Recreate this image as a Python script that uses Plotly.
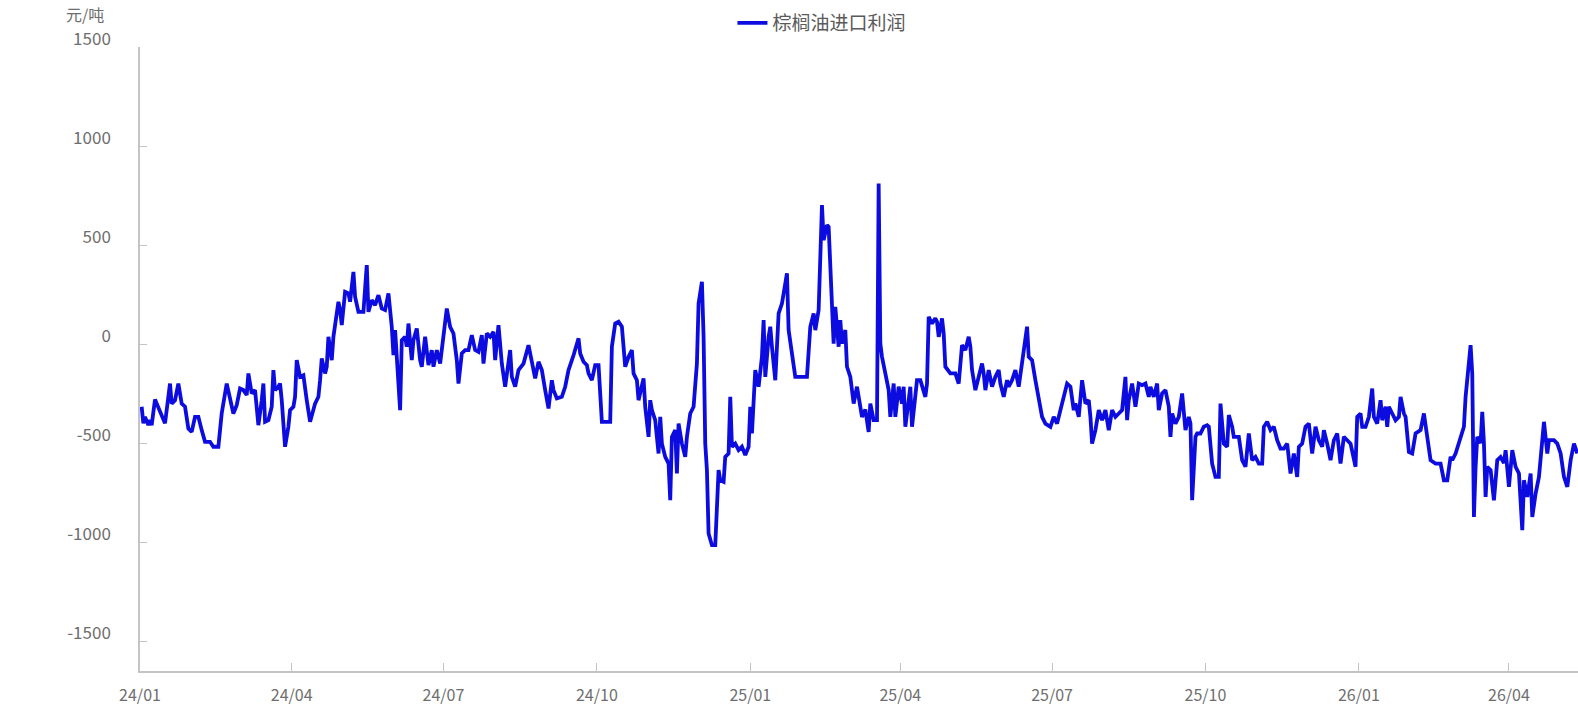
import plotly.graph_objects as go

dates = [
"2024-01-02","2024-01-03","2024-01-04","2024-01-06","2024-01-07","2024-01-08","2024-01-10","2024-01-12","2024-01-16","2024-01-19",
"2024-01-20","2024-01-22","2024-01-24","2024-01-26","2024-01-28","2024-01-30","2024-02-01","2024-02-03","2024-02-05","2024-02-07",
"2024-02-09","2024-02-12","2024-02-14","2024-02-17","2024-02-19","2024-02-22","2024-02-24","2024-02-26","2024-02-28","2024-03-01",
"2024-03-03","2024-03-05","2024-03-06","2024-03-08","2024-03-10","2024-03-12","2024-03-14","2024-03-15","2024-03-16","2024-03-18",
"2024-03-20","2024-03-21","2024-03-22","2024-03-24","2024-03-25","2024-03-26","2024-03-28","2024-03-30","2024-03-31","2024-04-02",
"2024-04-03","2024-04-04","2024-04-06","2024-04-08","2024-04-10","2024-04-12","2024-04-15","2024-04-17","2024-04-18","2024-04-19",
"2024-04-21","2024-04-22","2024-04-23","2024-04-25","2024-04-26","2024-04-27","2024-04-29","2024-04-30","2024-05-01","2024-05-03",
"2024-05-05","2024-05-06","2024-05-08","2024-05-09","2024-05-11","2024-05-14","2024-05-16","2024-05-17","2024-05-19","2024-05-21",
"2024-05-23","2024-05-25","2024-05-27","2024-05-29","2024-05-31","2024-06-01","2024-06-02","2024-06-03","2024-06-05","2024-06-06",
"2024-06-08","2024-06-09","2024-06-10","2024-06-12","2024-06-13","2024-06-15","2024-06-17","2024-06-18","2024-06-20","2024-06-22",
"2024-06-24","2024-06-25","2024-06-27","2024-06-29","2024-07-01","2024-07-03","2024-07-05","2024-07-07","2024-07-09","2024-07-10",
"2024-07-12","2024-07-14","2024-07-16","2024-07-18","2024-07-20","2024-07-22","2024-07-24","2024-07-25","2024-07-27","2024-07-29",
"2024-07-31","2024-08-01","2024-08-03","2024-08-04","2024-08-05","2024-08-07","2024-08-09","2024-08-10","2024-08-11","2024-08-13",
"2024-08-15","2024-08-18","2024-08-21","2024-08-23","2024-08-25","2024-08-27","2024-08-29","2024-08-31","2024-09-02","2024-09-04",
"2024-09-05","2024-09-07","2024-09-10","2024-09-12","2024-09-14","2024-09-17","2024-09-20","2024-09-21","2024-09-23","2024-09-25",
"2024-09-26","2024-09-28","2024-09-30","2024-10-02","2024-10-04","2024-10-07","2024-10-09","2024-10-10","2024-10-12","2024-10-14",
"2024-10-16","2024-10-17","2024-10-18","2024-10-20","2024-10-22","2024-10-23","2024-10-25","2024-10-26","2024-10-28","2024-10-29",
"2024-10-30","2024-11-01","2024-11-02","2024-11-03","2024-11-05","2024-11-07","2024-11-08","2024-11-09","2024-11-11","2024-11-13",
"2024-11-14","2024-11-15","2024-11-17","2024-11-18","2024-11-19","2024-11-21","2024-11-23","2024-11-24","2024-11-26","2024-11-28",
"2024-11-30","2024-12-01","2024-12-03","2024-12-04","2024-12-05","2024-12-06","2024-12-07","2024-12-09","2024-12-11","2024-12-12",
"2024-12-13","2024-12-14","2024-12-16","2024-12-17","2024-12-19","2024-12-20","2024-12-21","2024-12-23","2024-12-25","2024-12-27",
"2024-12-29","2024-12-31","2025-01-01","2025-01-02","2025-01-04","2025-01-06","2025-01-08","2025-01-09","2025-01-10","2025-01-12",
"2025-01-13","2025-01-14","2025-01-16","2025-01-18","2025-01-20","2025-01-22","2025-01-23","2025-01-24","2025-01-26","2025-01-28",
"2025-02-04","2025-02-06","2025-02-08","2025-02-09","2025-02-11","2025-02-13","2025-02-14","2025-02-16","2025-02-17","2025-02-19",
"2025-02-20","2025-02-21","2025-02-23","2025-02-24","2025-02-25","2025-02-27","2025-02-28","2025-03-02","2025-03-04","2025-03-06",
"2025-03-09","2025-03-11","2025-03-13","2025-03-14","2025-03-16","2025-03-18","2025-03-19","2025-03-20","2025-03-21","2025-03-23",
"2025-03-25","2025-03-26","2025-03-28","2025-03-29","2025-03-31","2025-04-02","2025-04-03","2025-04-04","2025-04-06","2025-04-07",
"2025-04-08","2025-04-10","2025-04-11","2025-04-13","2025-04-16","2025-04-17","2025-04-18","2025-04-20","2025-04-22","2025-04-23",
"2025-04-24","2025-04-26","2025-04-27","2025-04-28","2025-05-01","2025-05-04","2025-05-06","2025-05-08","2025-05-10","2025-05-12",
"2025-05-13","2025-05-14","2025-05-16","2025-05-18","2025-05-20","2025-05-21","2025-05-22","2025-05-24","2025-05-26","2025-05-28",
"2025-05-30","2025-05-31","2025-06-02","2025-06-04","2025-06-05","2025-06-07","2025-06-09","2025-06-11","2025-06-13","2025-06-15",
"2025-06-16","2025-06-17","2025-06-19","2025-06-21","2025-06-23","2025-06-25","2025-06-27","2025-06-30","2025-07-02","2025-07-04",
"2025-07-06","2025-07-08","2025-07-10","2025-07-12","2025-07-14","2025-07-15","2025-07-17","2025-07-19","2025-07-21","2025-07-23",
"2025-07-24","2025-07-25","2025-07-27","2025-07-29","2025-07-31","2025-08-02","2025-08-04","2025-08-06","2025-08-08","2025-08-10",
"2025-08-12","2025-08-14","2025-08-15","2025-08-16","2025-08-18","2025-08-20","2025-08-22","2025-08-24","2025-08-26","2025-08-28",
"2025-08-29","2025-08-31","2025-09-02","2025-09-03","2025-09-05","2025-09-07","2025-09-09","2025-09-10","2025-09-11","2025-09-13",
"2025-09-15","2025-09-17","2025-09-18","2025-09-19","2025-09-21","2025-09-22","2025-09-23","2025-09-25","2025-09-26","2025-09-28",
"2025-09-30","2025-10-02","2025-10-03","2025-10-05","2025-10-07","2025-10-09","2025-10-10","2025-10-12","2025-10-14","2025-10-15",
"2025-10-17","2025-10-18","2025-10-21","2025-10-23","2025-10-25","2025-10-27","2025-10-29","2025-10-31","2025-11-02","2025-11-04",
"2025-11-05","2025-11-07","2025-11-09","2025-11-11","2025-11-13","2025-11-15","2025-11-17","2025-11-19","2025-11-21","2025-11-23",
"2025-11-25","2025-11-26","2025-11-28","2025-11-30","2025-12-02","2025-12-04","2025-12-06","2025-12-08","2025-12-10","2025-12-11",
"2025-12-13","2025-12-15","2025-12-17","2025-12-19","2025-12-21","2025-12-23","2025-12-25","2025-12-27","2025-12-30","2025-12-31",
"2026-01-02","2026-01-03","2026-01-05","2026-01-07","2026-01-09","2026-01-10","2026-01-12","2026-01-14","2026-01-15","2026-01-17",
"2026-01-18","2026-01-19","2026-01-21","2026-01-23","2026-01-25","2026-01-26","2026-01-28","2026-01-29","2026-01-31","2026-02-02",
"2026-02-04","2026-02-07","2026-02-09","2026-02-11","2026-02-13","2026-02-16","2026-02-19","2026-02-21","2026-02-23","2026-02-25",
"2026-02-26","2026-02-28","2026-03-03","2026-03-05","2026-03-06","2026-03-08","2026-03-09","2026-03-10","2026-03-11","2026-03-12",
"2026-03-13","2026-03-15","2026-03-16","2026-03-17","2026-03-18","2026-03-19","2026-03-21","2026-03-23","2026-03-25","2026-03-27",
"2026-03-29","2026-03-30","2026-04-01","2026-04-03","2026-04-05","2026-04-07","2026-04-09","2026-04-10","2026-04-12","2026-04-14",
"2026-04-15","2026-04-17","2026-04-19","2026-04-21","2026-04-22","2026-04-24","2026-04-25","2026-04-28","2026-04-30","2026-05-02",
"2026-05-04","2026-05-06","2026-05-08","2026-05-10","2026-05-12",
]

profit = [
-316,-400,-367,-409,-384,-409,-279,-316,-400,-199,
-300,-283,-199,-300,-316,-426,-443,-367,-367,-434,
-493,-493,-518,-518,-350,-199,-283,-350,-308,-224,
-232,-257,-148,-249,-232,-409,-283,-199,-392,-384,
-316,-131,-232,-215,-199,-283,-518,-417,-333,-316,
-266,-81,-165,-157,-283,-392,-300,-266,-182,-72,
-148,-114,37,-81,37,104,214,172,96,264,
256,214,365,239,163,163,399,163,222,197,
247,180,172,256,87,-56,71,-64,-333,20,
37,-13,104,-81,20,79,-81,-114,37,-106,
-30,-114,-30,-98,37,180,87,54,-81,-199,
-47,-30,-30,45,-30,-39,45,-98,54,37,
62,-81,96,3,-98,-215,-64,-30,-165,-215,
-131,-98,-5,-98,-173,-89,-131,-232,-325,-182,
-232,-274,-266,-215,-131,-56,29,-47,-89,-106,
-148,-182,-106,-106,-392,-392,-392,-13,104,113,
88,-13,-114,-64,-30,-148,-182,-283,-215,-173,
-316,-468,-283,-333,-384,-552,-367,-502,-569,-603,
-788,-468,-434,-653,-401,-502,-569,-468,-350,-316,
-98,205,315,37,-502,-636,-956,-1015,-1015,-804,
-636,-687,-695,-569,-552,-266,-518,-502,-535,-518,
-560,-518,-316,-451,-131,-215,-64,121,-165,37,
88,-13,-182,155,205,306,357,71,-64,-165,
-165,88,155,71,172,702,525,601,592,172,
3,188,-13,121,3,71,-114,-165,-300,-215,
-367,-330,-443,-300,-384,-384,811,3,-64,-148,
-232,-367,-199,-367,-215,-300,-215,-417,-300,-215,
-417,-266,-182,-182,-266,-199,138,104,130,113,
37,130,54,-114,-148,-148,-199,-5,-30,37,
-13,-131,-232,-165,-98,-148,-232,-131,-215,-165,
-131,-199,-266,-182,-215,-182,-131,-215,-98,3,
88,-64,-81,-182,-283,-367,-401,-417,-367,-401,
-333,-266,-199,-215,-333,-300,-367,-182,-300,-283,
-367,-502,-434,-333,-384,-333,-434,-333,-367,-350,
-333,-165,-384,-283,-199,-316,-199,-207,-199,-266,
-215,-266,-199,-333,-249,-232,-316,-468,-350,-401,
-367,-249,-367,-434,-367,-401,-788,-468,-451,-451,
-417,-409,-417,-603,-670,-670,-300,-502,-518,-358,
-417,-468,-468,-586,-619,-451,-586,-569,-603,-603,
-417,-392,-434,-417,-485,-527,-527,-502,-653,-552,
-670,-518,-502,-417,-401,-552,-417,-485,-518,-434,
-502,-586,-485,-451,-603,-468,-485,-502,-619,-367,
-350,-417,-417,-367,-224,-367,-401,-283,-384,-316,
-417,-316,-350,-384,-367,-266,-350,-367,-544,-552,
-451,-434,-350,-468,-586,-603,-603,-687,-687,-569,
-586,-552,-468,-417,-266,-81,-5,-150,-872,-620,
-468,-500,-342,-500,-771,-620,-636,-788,-586,-570,
-600,-535,-720,-535,-619,-653,-939,-687,-771,-653,
-872,-754,-670,-485,-392,-552,-485,-485,-502,-552,
-670,-720,-586,-502,-552,
]

y_ticks = [-1500, -1000, -500, 0, 500, 1000, 1500]
y_tick_labels = ["-1500", "-1000", "-500", "0", "500", "1000", "1500"]
series_name = "棕榈油进口利润"
unit_label = "元/吨"

axis_grey = "#c4c4c4"
text_grey = "#6e6e6e"
font_family = "Noto Sans CJK SC, Noto Sans, sans-serif"

fig = go.Figure(
    go.Scatter(
        x=dates, y=profit, mode="lines", name=series_name,
        line=dict(color="#0c0ce0", width=3.8),
    )
)

fig.update_layout(
    width=1578, height=706,
    margin=dict(l=140, r=0, t=47, b=35, autoexpand=False),
    paper_bgcolor="white", plot_bgcolor="white",
    font=dict(family=font_family, size=17, color=text_grey),
    showlegend=True,
    legend=dict(
        orientation="h", x=0.412, xanchor="left", y=1.0385, yanchor="middle",
        font=dict(size=19, color="#5a5a5a"), bgcolor="rgba(0,0,0,0)",
    ),
    xaxis=dict(
        type="date", range=["2024-01-01", "2026-05-12 10:00"],
        tickformat="%y/%m", dtick="M3", tick0="2024-01-01",
        ticks="inside", ticklen=8, tickcolor=axis_grey, tickwidth=1,
        showline=True, linecolor=axis_grey, linewidth=1.5,
        showgrid=False, zeroline=False, ticklabelstandoff=9, automargin=False,
        tickfont=dict(size=16, color=text_grey),
    ),
    yaxis=dict(
        range=[-1650, 1500], tickvals=y_ticks, ticktext=y_tick_labels,
        ticks="inside", ticklen=7, tickcolor=axis_grey, tickwidth=1,
        showline=True, linecolor=axis_grey, linewidth=1.5,
        showgrid=False, zeroline=False, ticklabelstandoff=24, ticklabelshift=-8,
        automargin=False,
        tickfont=dict(size=17, color=text_grey),
    ),
    annotations=[dict(
        text=unit_label, xref="paper", yref="paper", x=-0.038, y=1.053,
        showarrow=False, font=dict(size=16, color=text_grey),
        xanchor="center", yanchor="middle",
    )],
)

fig.write_html("out.html")
